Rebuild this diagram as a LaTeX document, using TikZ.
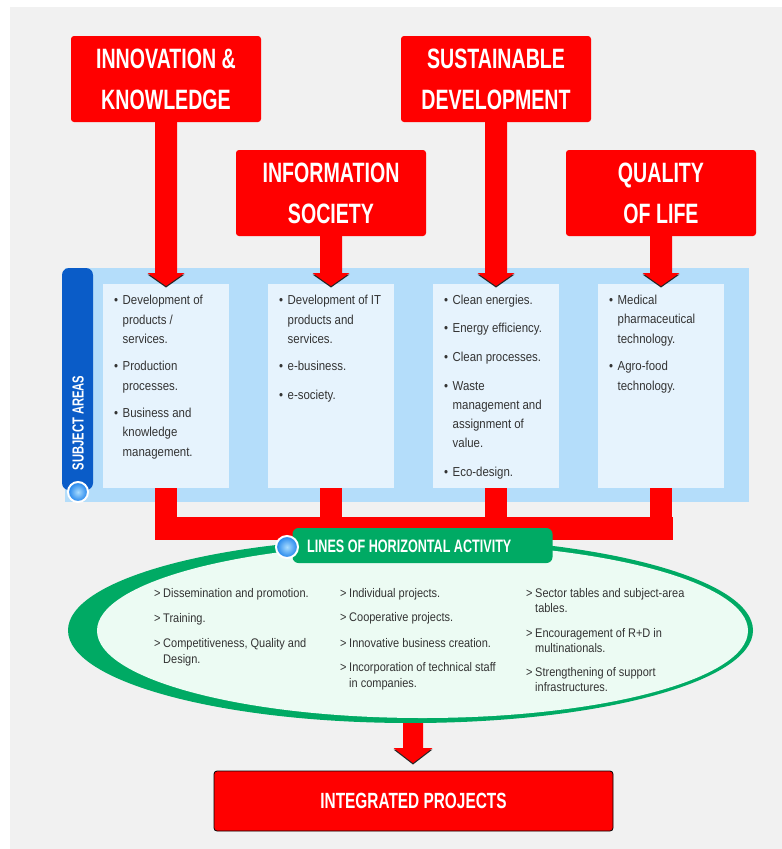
\documentclass[tikz,border=0pt]{standalone}
\usepackage{fontspec}
\setmainfont{Liberation Sans}
\newfontfamily\hdrfont[FakeStretch=0.70]{Liberation Sans}
\newfontfamily\txtfont[FakeStretch=0.88]{Liberation Sans}
\usetikzlibrary{shapes.geometric,calc}
\definecolor{bgg}{HTML}{F1F1F1}
\definecolor{rd}{HTML}{FF0000}
\definecolor{panelc}{HTML}{B4DDFA}
\definecolor{inbox}{HTML}{E6F3FD}
\definecolor{tabblue}{HTML}{0A5CC8}
\definecolor{grn}{HTML}{00AA64}
\definecolor{mint}{HTML}{ECFBF3}
\definecolor{txtc}{HTML}{333333}
\definecolor{ballin}{HTML}{A8DCFF}
\definecolor{ballout}{HTML}{1E82EB}
\newcommand\fatarrow[5]{%
  \fill[black!85,transform canvas={yshift=-1.5pt}] ($(#2)+(-#4,-#5)$) -- ($(#2)+(#4,-#5)$) -- (#2) -- cycle;
  \fill[rd] ($(#1 -| #2)+(-#3,0)$) -- ($(#2)+(-#3,-#5)$) -- ($(#2)+(-#4,-#5)$) -- (#2) -- ($(#2)+(#4,-#5)$) -- ($(#2)+(#3,-#5)$) -- ($(#1 -| #2)+(#3,0)$) -- cycle;}
\newcommand\bl[4]{\node[txt] (#1) at (#2,#3) {\makebox[8.5pt][l]{•}#4};}
\newcommand\cl[4]{\node[txt] (#1) at (#2,#3) {#4};}
\newcommand\el[4]{\node[etxt] (#1) at (#2,#3) {\makebox[9pt][l]{>}#4};}
\newcommand\ec[4]{\node[etxt] (#1) at (#2,#3) {#4};}
\begin{document}
\begin{tikzpicture}[x=1pt,y=-1pt,
  hdr/.style={fill=rd, rounded corners=3pt, minimum width=190pt, minimum height=86pt, inner sep=0pt, align=center, text=white, font=\hdrfont\bfseries\fontsize{28}{41}\selectfont},
  inbx/.style={fill=inbox, minimum width=126pt, minimum height=204pt, inner sep=0pt},
  txt/.style={anchor=base west, inner sep=0pt, text=txtc, font=\txtfont\fontsize{13}{19.5}\selectfont},
  etxt/.style={anchor=base west, inner sep=0pt, text=txtc, font=\txtfont\fontsize{12.5}{15.5}\selectfont},
  ball/.style={circle, inner sep=0pt, minimum size=20pt, inner color=ballin, outer color=ballout, draw=white, line width=2pt}]
\useasboundingbox (0,0) rectangle (782,849);
\fill[white] (0,0) rectangle (782,849);
\fill[bgg] (10,7) rectangle (782,849);
% subject areas panel
\node[fill=panelc, minimum width=684pt, minimum height=234pt, inner sep=0pt] (panel) at (407,385) {};
\node[inbx] (b1) at (166,386) {};
\node[inbx] (b2) at (331,386) {};
\node[inbx] (b3) at (496,386) {};
\node[inbx] (b4) at (661,386) {};
\fill[tabblue, rounded corners=7pt] (62,490) -- (62,268) -- (93,268) -- (93,490) -- cycle;
\node[rotate=90, text=white, inner sep=0pt, font=\hdrfont\bfseries\fontsize{16}{16}\selectfont] (subj) at (78,423) {SUBJECT AREAS};
\node[ball] (dot1) at (78,492) {};
% header boxes
\node[hdr] (innov) at (166,79) {INNOVATION \&\\KNOWLEDGE};
\node[hdr] (sust) at (496,79) {SUSTAINABLE\\DEVELOPMENT};
\node[hdr] (info) at (331,193) {INFORMATION\\SOCIETY};
\node[hdr] (qual) at (661,193) {QUALITY\\OF LIFE};
\coordinate (t1) at (166,286);
\coordinate (t2) at (331,286);
\coordinate (t3) at (496,286);
\coordinate (t4) at (661,286);
\fatarrow{innov.south}{t1}{11}{18.5}{13}
\fatarrow{info.south}{t2}{11}{18.5}{13}
\fatarrow{sust.south}{t3}{11}{18.5}{13}
\fatarrow{qual.south}{t4}{11}{18.5}{13}
% bottom red frame
\coordinate (barL) at (155,517);
\coordinate (barR) at (673,540);
\fill[rd] (barL) rectangle (barR);
\fill[rd] ($(b1.south)+(-11,0)$) rectangle ($(b1.south |- barL)+(11,1)$);
\fill[rd] ($(b2.south)+(-11,0)$) rectangle ($(b2.south |- barL)+(11,1)$);
\fill[rd] ($(b3.south)+(-11,0)$) rectangle ($(b3.south |- barL)+(11,1)$);
\fill[rd] ($(b4.south)+(-11,0)$) rectangle ($(b4.south |- barL)+(11,1)$);
% box texts
\bl{b1a}{114}{304.5}{Development of}
\cl{b1a2}{122.5}{324}{products /}
\cl{b1a3}{122.5}{343.5}{services.}
\bl{b1b}{114}{370.5}{Production}
\cl{b1b2}{122.5}{390}{processes.}
\bl{b1c}{114}{417}{Business and}
\cl{b1c2}{122.5}{436.5}{knowledge}
\cl{b1c3}{122.5}{456}{management.}
\bl{b2a}{279}{304.5}{Development of IT}
\cl{b2a2}{287.5}{324}{products and}
\cl{b2a3}{287.5}{343.5}{services.}
\bl{b2b}{279}{370.5}{e-business.}
\bl{b2c}{279}{399}{e-society.}
\bl{b3a}{444}{304.5}{Clean energies.}
\bl{b3b}{444}{332.5}{Energy efficiency.}
\bl{b3c}{444}{361.5}{Clean processes.}
\bl{b3d}{444}{390.5}{Waste}
\cl{b3d2}{452.5}{409.5}{management and}
\cl{b3d3}{452.5}{428.5}{assignment of}
\cl{b3d4}{452.5}{447.5}{value.}
\bl{b3e}{444}{476.5}{Eco-design.}
\bl{b4a}{609}{304.5}{Medical}
\cl{b4a2}{617.5}{323.5}{pharmaceutical}
\cl{b4a3}{617.5}{343}{technology.}
\bl{b4b}{609}{370.5}{Agro-food}
\cl{b4b2}{617.5}{390}{technology.}
% horizontal activity ellipse
\node[ellipse, fill=grn, minimum width=685pt, minimum height=185.4pt, inner sep=0pt] (hzo) at (410.5,630.3) {};
\node[ellipse, fill=mint, minimum width=651pt, minimum height=174.6pt, inner sep=0pt] (hzi) at (422.5,630.7) {};
\node[fill=grn, rounded corners=6pt, minimum width=260pt, minimum height=35pt, inner sep=0pt] (hzt) at (422.5,545.5) {};
\node[anchor=west, inner sep=0pt, text=white, font=\hdrfont\bfseries\fontsize{18}{18}\selectfont] (hztxt) at (307,546) {LINES OF HORIZONTAL ACTIVITY};
\node[ball, minimum size=22pt] (dot2) at (287,547) {};
\el{e1a}{154}{597}{Dissemination and promotion.}
\el{e1b}{154}{622}{Training.}
\el{e1c}{154}{647}{Competitiveness, Quality and}
\ec{e1c2}{163}{663}{Design.}
\el{e2a}{340}{597}{Individual projects.}
\el{e2b}{340}{621}{Cooperative projects.}
\el{e2c}{340}{647}{Innovative business creation.}
\el{e2d}{340}{671}{Incorporation of technical staff}
\ec{e2d2}{349}{687}{in companies.}
\el{e3a}{526}{597}{Sector tables and subject-area}
\ec{e3a2}{535}{612}{tables.}
\el{e3b}{526}{637}{Encouragement of R+D in}
\ec{e3b2}{535}{652}{multinationals.}
\el{e3c}{526}{676}{Strengthening of support}
\ec{e3c2}{535}{691}{infrastructures.}
% integrated projects
\node[fill=rd, draw=black, line width=0.8pt, rounded corners=3pt, minimum width=399pt, minimum height=60pt, inner sep=0pt, text=white, font=\hdrfont\bfseries\fontsize{22}{22}\selectfont] (intp) at (413.5,801) {INTEGRATED PROJECTS};
\coordinate (t5) at (413,763);
\fatarrow{hzo.south}{t5}{10}{19.5}{15}
\end{tikzpicture}
\end{document}
